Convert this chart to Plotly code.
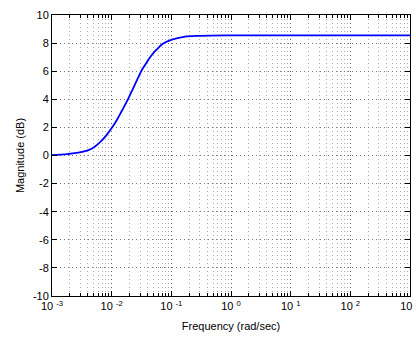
import plotly.graph_objects as go

# Values
freq_rad_s = [0.001, 0.0018, 0.0032, 0.0047, 0.0064, 0.008, 0.01, 0.0123, 0.0149, 0.019,
              0.0227, 0.0275, 0.0322, 0.039, 0.047, 0.057, 0.072, 0.102, 0.162, 0.3,
              1, 10, 100, 1000]
magnitude_db = [0.03, 0.1, 0.25, 0.5, 0.95, 1.4, 1.95, 2.55, 3.2, 4.05,
                4.75, 5.5, 6.1, 6.65, 7.15, 7.55, 7.95, 8.25, 8.45, 8.52,
                8.55, 8.55, 8.55, 8.55]

x_tick_vals = [1e-3, 1e-2, 1e-1, 1e0, 1e1, 1e2, 1e3]
x_tick_text = ["10 <sup>-3</sup>", "10 <sup>-2</sup>", "10 <sup>-1</sup>", "10 <sup>0</sup>",
               "10 <sup>1</sup>", "10 <sup>2</sup>", "10 <sup>3</sup>"]
y_tick_vals = [-10, -8, -6, -4, -2, 0, 2, 4, 6, 8, 10]
y_tick_text = ["-10", "-8", "-6", "-4", "-2", "0", "2", "4", "6", "8", "10"]

font = dict(family="Liberation Sans, Arial, sans-serif", size=11, color="black")
dots = "1px,3px"

fig = go.Figure()
fig.add_trace(go.Scatter(
    x=freq_rad_s, y=magnitude_db, mode="lines",
    line=dict(color="#0000ff", width=1.8, shape="spline", smoothing=1.0),
    showlegend=False, hoverinfo="skip",
))

fig.update_layout(
    width=416, height=340,
    margin=dict(l=52, r=6, t=15, b=44, autoexpand=False),
    paper_bgcolor="white", plot_bgcolor="white",
    font=font,
)
fig.update_xaxes(
    type="log", range=[-3, 3], automargin=False,
    tickmode="array", tickvals=x_tick_vals, ticktext=x_tick_text,
    ticklabeloverflow="allow",
    ticks="inside", ticklen=5, tickcolor="black",
    showline=True, linecolor="black", linewidth=1, mirror="ticks",
    showgrid=True, gridcolor="#666666", griddash=dots, gridwidth=1,
    minor=dict(dtick="D1", ticks="inside", ticklen=3, tickcolor="black",
               showgrid=True, gridcolor="#aaaaaa", griddash=dots, gridwidth=1),
    zeroline=False,
    title=dict(text="Frequency (rad/sec)", font=font, standoff=11),
    tickfont=font,
)
fig.update_yaxes(
    range=[-10, 10], automargin=False,
    tickmode="array", tickvals=y_tick_vals, ticktext=y_tick_text,
    ticks="inside", ticklen=5, tickcolor="black",
    showline=True, linecolor="black", linewidth=1, mirror="ticks",
    showgrid=True, gridcolor="#777777", griddash=dots, gridwidth=1,
    zeroline=False,
    title=dict(text="Magnitude (dB)", font=font, standoff=6),
    tickfont=font,
)

fig.write_html(
    "out.html",
    config={"displayModeBar": False},
    post_script="document.body.style.margin='0';document.body.style.overflow='hidden';",
)
